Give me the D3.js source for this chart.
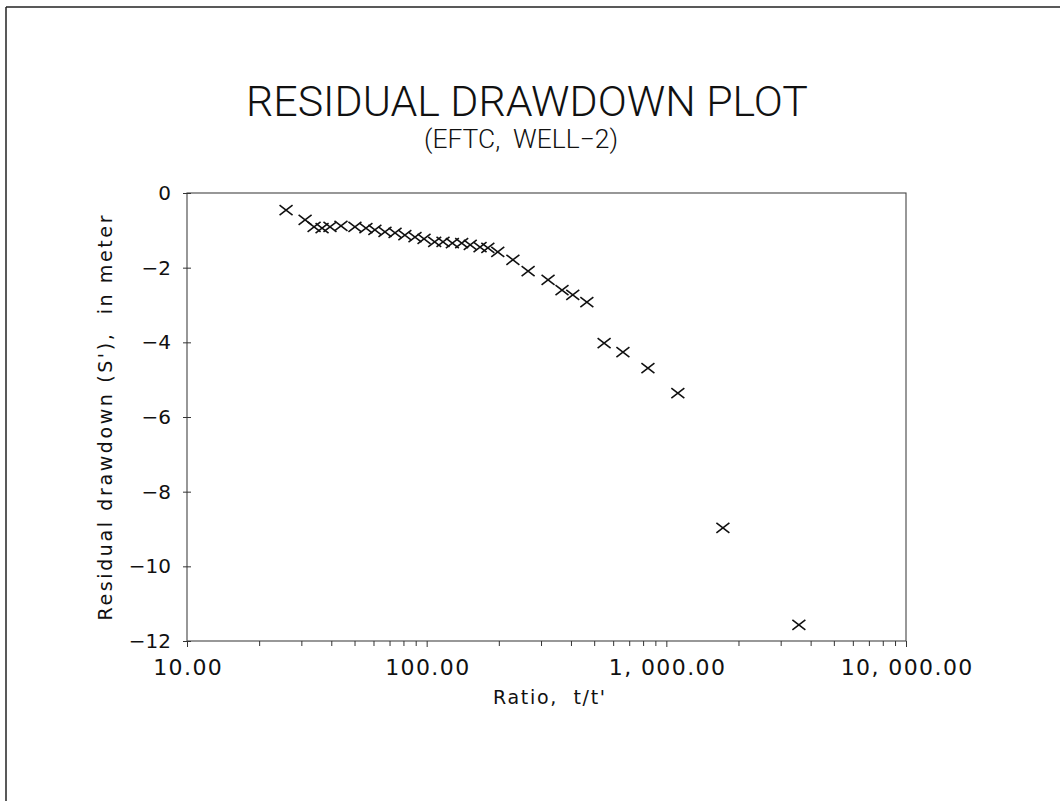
<!DOCTYPE html>
<html>
<head>
<meta charset="utf-8">
<title>Residual drawdown plot</title>
<script src="https://cdn.jsdelivr.net/npm/d3@7"></script>
<style>
  body { margin: 0; background: #fff; }
  text { font-family: "DejaVu Sans", sans-serif; fill: #111; }
  .thin { font-family: "Roboto", "Lato", "Open Sans", sans-serif; font-weight: 300; }
</style>
</head>
<body>
<script>
// data
var ratio = [25.9, 31.1, 33.9, 36.6, 39.5, 43.9, 50.2, 55.8, 60.8, 67.0, 73.8, 81.1, 89.4, 97.5,
             108, 117, 128, 140, 152, 167, 180, 198, 229, 265, 321, 367, 407, 466,
             550, 659, 838, 1117, 1722, 3573];
var drawdown = [-0.46, -0.72, -0.91, -0.94, -0.91, -0.88, -0.91, -0.94, -0.99, -1.04, -1.07, -1.13, -1.18, -1.23,
                -1.31, -1.31, -1.34, -1.34, -1.39, -1.45, -1.47, -1.58, -1.79, -2.09, -2.33, -2.60, -2.73, -2.92,
                -4.02, -4.26, -4.69, -5.36, -8.97, -11.57];
var xTicks = [10, 100, 1000, 10000];
var xTickLabels = ["10.00", "100.00", "1, 000.00", "10, 000.00"];
var yTicks = [0, -2, -4, -6, -8, -10, -12];

var W = 1060, H = 801;
var plot = {left: 187, right: 906, top: 193, bottom: 641};

var svg = d3.select("body").append("svg")
    .attr("width", W)
    .attr("height", H);

// page frame (scan edge)
svg.append("line").attr("x1", 6).attr("y1", 7).attr("x2", W).attr("y2", 7)
    .attr("stroke", "#222").attr("stroke-width", 1.5);
svg.append("line").attr("x1", 6).attr("y1", 7).attr("x2", 6).attr("y2", H)
    .attr("stroke", "#222").attr("stroke-width", 1.5);

var x = d3.scaleLog().domain([10, 10000]).range([plot.left, plot.right]);
var y = d3.scaleLinear().domain([-12, 0]).range([plot.bottom, plot.top]);

// plot box
svg.append("rect")
    .attr("x", plot.left).attr("y", plot.top)
    .attr("width", plot.right - plot.left).attr("height", plot.bottom - plot.top)
    .attr("fill", "none").attr("stroke", "#444").attr("stroke-width", 1.1);

// minor ticks bottom
var minor = [];
[10, 100, 1000].forEach(function(d) {
    for (var k = 2; k <= 9; k++) minor.push(d * k);
});
svg.append("g")
    .attr("transform", "translate(0," + plot.bottom + ")")
    .call(d3.axisBottom(x).tickValues(minor).tickSize(5).tickFormat(""))
    .call(function(g) { g.select(".domain").remove(); })
    .selectAll("line").attr("stroke", "#333");

// major x ticks + labels
var xAxis = svg.append("g")
    .attr("transform", "translate(0," + plot.bottom + ")")
    .call(d3.axisBottom(x).tickValues(xTicks).tickSize(6).tickPadding(12)
        .tickFormat(function(d, i) { return xTickLabels[i]; }));
xAxis.select(".domain").remove();
xAxis.selectAll("line").attr("stroke", "#333");
xAxis.selectAll("text")
    .attr("xml:space", "preserve")
    .attr("dx", "0.7px")
    .style("font-family", "'DejaVu Sans', sans-serif")
    .style("font-size", "22px")
    .style("letter-spacing", "1.4px")
    .attr("fill", "#111");

// y axis, ticks cross the axis line
var yAxis = svg.append("g")
    .attr("transform", "translate(" + plot.left + ",0)")
    .call(d3.axisLeft(y).tickValues(yTicks).tickSize(4).tickPadding(12)
        .tickFormat(function(d) { return d === 0 ? "0" : "\u2212" + Math.abs(d); }));
yAxis.select(".domain").remove();
yAxis.selectAll("line").attr("x2", 4).attr("x1", -4).attr("stroke", "#333");
yAxis.selectAll("text")
    .style("font-family", "'DejaVu Sans', sans-serif")
    .style("font-size", "20px")
    .attr("fill", "#111");

// titles
svg.append("text")
    .attr("class", "thin")
    .attr("x", 527).attr("y", 116)
    .attr("text-anchor", "middle")
    .attr("textLength", 562).attr("lengthAdjust", "spacingAndGlyphs")
    .style("font-size", "42px")
    .text("RESIDUAL DRAWDOWN PLOT");
svg.append("text")
    .attr("class", "thin")
    .attr("x", 521).attr("y", 148)
    .attr("text-anchor", "middle")
    .attr("textLength", 194).attr("lengthAdjust", "spacingAndGlyphs")
    .style("font-size", "26px")
    .attr("xml:space", "preserve")
    .text("(EFTC,  WELL\u22122)");

// axis titles
svg.append("text")
    .attr("x", 549).attr("y", 704)
    .attr("text-anchor", "middle")
    .attr("xml:space", "preserve")
    .attr("textLength", 112).attr("lengthAdjust", "spacing")
    .style("font-size", "19px")
    .text("Ratio,  t/t'");
svg.append("text")
    .attr("transform", "translate(112,418) rotate(-90)")
    .attr("text-anchor", "middle")
    .attr("xml:space", "preserve")
    .attr("textLength", 405).attr("lengthAdjust", "spacing")
    .style("font-size", "19px")
    .text("Residual drawdown (S'),  in meter");

// x markers
var pts = ratio.map(function(r, i) { return {r: r, s: drawdown[i]}; });
var hw = 6.5, hh = 5;
svg.append("g").selectAll("path")
    .data(pts)
    .enter()
    .append("path")
    .attr("d", function(d) {
        var cx = x(d.r), cy = y(d.s);
        return "M" + (cx - hw) + "," + (cy - hh) + "L" + (cx + hw) + "," + (cy + hh) +
               "M" + (cx - hw) + "," + (cy + hh) + "L" + (cx + hw) + "," + (cy - hh);
    })
    .attr("stroke", "#111")
    .attr("stroke-width", 1.6)
    .attr("fill", "none");
</script>
</body>
</html>
